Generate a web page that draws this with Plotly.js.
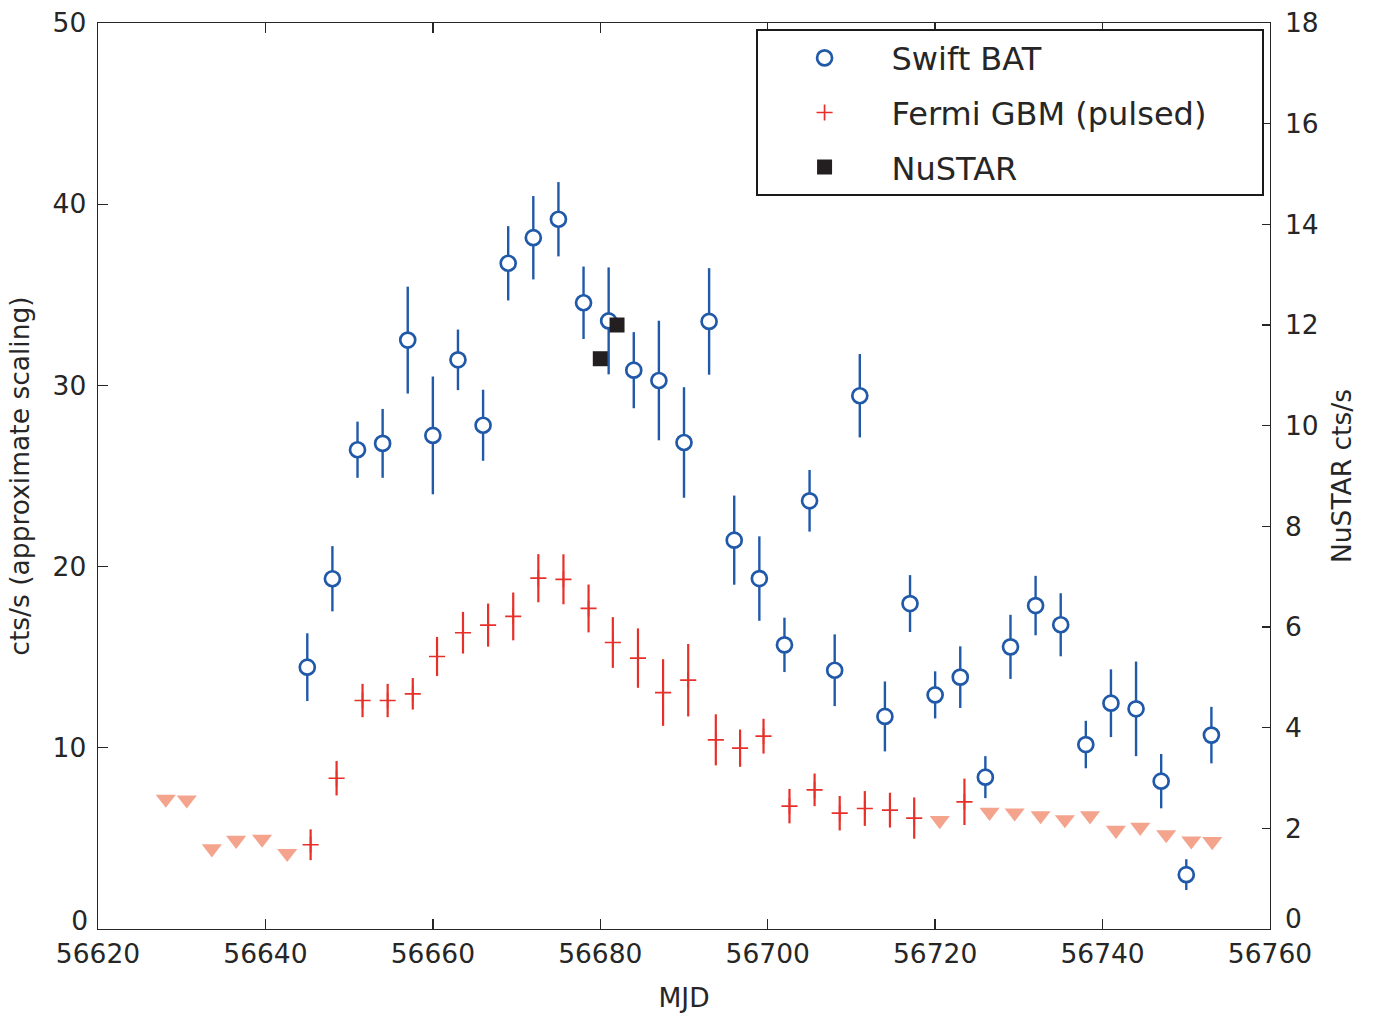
<!DOCTYPE html>
<html>
<head>
<meta charset="utf-8">
<script src="https://cdn.plot.ly/plotly-3.0.1.min.js"></script>
<style>html,body{margin:0;padding:0;background:#fff;}#chart{width:1380px;height:1013px;}</style>
</head>
<body>
<div id="chart"></div>
<script>
// Swift BAT
const swiftX = [56645, 56648, 56651, 56654, 56657, 56660, 56663, 56666, 56669, 56672, 56675, 56678, 56681, 56684, 56687, 56690, 56693, 56696, 56699, 56702, 56705, 56708, 56711, 56714, 56717, 56720, 56723, 56726, 56729, 56732, 56735, 56738, 56741, 56744, 56747, 56750, 56753];
const swiftY = [14.45, 19.33, 26.45, 26.8, 32.5, 27.24, 31.41, 27.8, 36.74, 38.15, 39.17, 34.56, 33.56, 30.84, 30.27, 26.85, 33.53, 21.46, 19.34, 15.68, 23.63, 14.28, 29.43, 11.73, 17.96, 12.92, 13.9, 8.38, 15.57, 17.85, 16.79, 10.18, 12.46, 12.15, 8.16, 3.0, 10.7];
const swiftErr = [1.87, 1.8, 1.55, 1.9, 2.95, 3.25, 1.67, 1.96, 2.05, 2.3, 2.05, 2.0, 2.95, 2.1, 3.3, 3.05, 2.94, 2.46, 2.33, 1.5, 1.7, 1.98, 2.3, 1.93, 1.57, 1.3, 1.7, 1.16, 1.77, 1.64, 1.74, 1.31, 1.87, 2.61, 1.5, 0.85, 1.56];

// Fermi GBM (pulsed) detections
const fermiX = [56645.4, 56648.5, 56651.6, 56654.6, 56657.6, 56660.5, 56663.6, 56666.6, 56669.6, 56672.6, 56675.6, 56678.6, 56681.5, 56684.5, 56687.5, 56690.5, 56693.8, 56696.7, 56699.5, 56702.6, 56705.6, 56708.6, 56711.6, 56714.6, 56717.5, 56723.5];
const fermiY = [4.65, 8.32, 12.61, 12.61, 12.98, 15.04, 16.35, 16.77, 17.25, 19.36, 19.30, 17.69, 15.81, 14.95, 13.05, 13.73, 10.44, 9.98, 10.64, 6.78, 7.68, 6.39, 6.65, 6.56, 6.12, 7.02];
const fermiErr = [0.85, 0.95, 0.92, 0.92, 0.87, 1.08, 1.15, 1.19, 1.32, 1.33, 1.38, 1.32, 1.40, 1.64, 1.84, 2.00, 1.41, 1.03, 0.96, 0.95, 0.90, 0.95, 0.96, 0.96, 1.14, 1.28];

// Fermi GBM upper limits
const ulX = [56628.1, 56630.6, 56633.6, 56636.5, 56639.6, 56642.6, 56720.55, 56726.5, 56729.5, 56732.6, 56735.5, 56738.5, 56741.6, 56744.5, 56747.6, 56750.6, 56753.1];
const ulY = [7.17, 7.13, 4.43, 4.90, 4.96, 4.18, 5.99, 6.45, 6.41, 6.26, 6.04, 6.25, 5.45, 5.62, 5.21, 4.87, 4.83];

// NuSTAR (right axis)
const nuX = [56680.0, 56682.0];
const nuY = [11.33, 12.0];
const nuErr = [0.1, 0.1];

const xTicks = [56620, 56640, 56660, 56680, 56700, 56720, 56740, 56760];
const yTicks = [0, 10, 20, 30, 40, 50];
const y2Ticks = [0, 2, 4, 6, 8, 10, 12, 14, 16, 18];

const ink = '#262626';
const blue = '#2159a9';
const red = '#e8302a';
const salmon = '#f4a48d';
const font = 'DejaVu Sans, sans-serif';
const pad = '\u00a0\u00a0\u00a0\u00a0\u00a0';
const tf = {family: font, size: 26.5, color: ink};
const leftRange = [0, 50];

const traces = [
  {
    // upper limits share the left scale (helper axis y3 has identical range)
    x: ulX, y: ulY, yaxis: 'y3', type: 'scatter', mode: 'markers', showlegend: false,
    marker: {symbol: 'triangle-down', size: 17.5, color: salmon, line: {width: 0}},
    hoverinfo: 'x+y'
  },
  {
    // Fermi detections share the left scale (helper axis y4 has identical range)
    x: fermiX, y: fermiY, yaxis: 'y4', type: 'scatter', mode: 'markers', name: 'Fermi GBM (pulsed)' + pad,
    legendgroup: 'b', legendrank: 2,
    error_y: {type: 'data', array: fermiErr, visible: true, color: red, thickness: 2.2, width: 0},
    marker: {symbol: 'cross-thin', size: 11.5, color: red, line: {color: red, width: 1.7}}
  },
  {
    x: swiftX, y: swiftY, type: 'scatter', mode: 'markers', name: 'Swift BAT',
    legendgroup: 'a', legendrank: 1,
    error_y: {type: 'data', array: swiftErr, visible: true, color: blue, thickness: 2.4, width: 0},
    marker: {symbol: 'circle', size: 15, color: '#ffffff', line: {color: blue, width: 2.7}}
  },
  {
    x: nuX, y: nuY, yaxis: 'y2', type: 'scatter', mode: 'markers', name: 'NuSTAR',
    legendgroup: 'c', legendrank: 3,
    error_y: {type: 'data', array: nuErr, visible: true, color: '#231f20', thickness: 2, width: 6},
    marker: {symbol: 'square', size: 15, color: '#231f20', line: {width: 0}}
  }
];

// bottom "0" labels sit slightly raised in the reference: drawn by helper axes
const yLabels = yTicks.map(v => v === 0 ? '' : String(v));
const y2Labels = y2Ticks.map(v => v === 0 ? '' : String(v));

const layout = {
  width: 1380, height: 1013,
  margin: {l: 98, r: 110, t: 23, b: 84, pad: 0},
  paper_bgcolor: '#ffffff', plot_bgcolor: '#ffffff',
  font: tf,
  showlegend: true,
  xaxis: {
    range: [56620, 56760], tickvals: xTicks, ticktext: xTicks.map(String),
    showgrid: false, zeroline: false, showline: true, linecolor: ink, linewidth: 1.4,
    mirror: 'ticks', ticks: 'inside', ticklen: 10, tickwidth: 1.3, tickcolor: ink,
    ticklabelstandoff: 1, automargin: false, tickfont: tf,
    title: {text: 'MJD', font: tf, standoff: 26}
  },
  yaxis: {
    range: leftRange, tickvals: yTicks, ticktext: yLabels,
    showgrid: false, zeroline: false, showline: true, linecolor: ink, linewidth: 1.4,
    mirror: true, ticks: 'inside', ticklen: 10, tickwidth: 1.3, tickcolor: ink,
    ticklabelstandoff: 5, automargin: false, tickfont: tf,
    title: {text: 'cts/s (approximate scaling)', font: tf, standoff: 15}
  },
  yaxis2: {
    range: [0, 18], tickvals: y2Ticks, ticktext: y2Labels,
    overlaying: 'y', side: 'right', anchor: 'x',
    showgrid: false, zeroline: false, showline: false,
    ticks: 'inside', ticklen: 8, tickwidth: 1.3, tickcolor: ink,
    ticklabelstandoff: 14, automargin: false, tickfont: tf,
    title: {text: 'NuSTAR cts/s', font: tf, standoff: 14}
  },
  yaxis3: {
    range: leftRange, tickvals: [0], ticktext: ['0'],
    overlaying: 'y', side: 'left', anchor: 'x',
    showgrid: false, zeroline: false, showline: false, ticks: '',
    ticklabelstandoff: 9, ticklabelshift: -8, automargin: false, tickfont: tf
  },
  yaxis4: {
    range: leftRange, tickvals: [0], ticktext: ['0'],
    overlaying: 'y', side: 'right', anchor: 'x',
    showgrid: false, zeroline: false, showline: false, ticks: '',
    ticklabelstandoff: 14, ticklabelshift: -10, automargin: false, tickfont: tf
  },
  legend: {
    x: 0.5614, y: 0.9934, xanchor: 'left', yanchor: 'top',
    bgcolor: '#ffffff', bordercolor: '#1a1a1a', borderwidth: 1.6,
    font: {family: font, size: 32, color: ink},
    traceorder: 'grouped', tracegroupgap: 10,
    itemwidth: 124, itemsizing: 'trace'
  }
};

Plotly.newPlot('chart', traces, layout, {displayModeBar: false, staticPlot: true});
</script>
</body>
</html>
